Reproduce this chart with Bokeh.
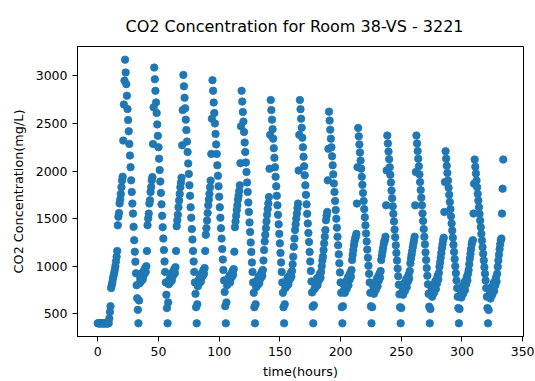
import numpy as np
from bokeh.plotting import figure
from bokeh.models import Range1d, FixedTicker, ColumnDataSource
from bokeh.embed import file_html
from bokeh.resources import INLINE

# CO2 readings (mg/L), one value every half hour, grouped by daily cycle
co2_day00 = [400, 400, 400, 400, 400, 400, 400, 400, 400, 400, 400, 400, 400, 400, 400, 400, 400, 400, 400,
             450, 520, 580, 770, 800, 830, 870, 900, 930, 960, 1000, 1050, 1100, 1160, 1430, 1520, 1560, 1660,
             1700, 1760, 1830, 1900, 1940, 2320, 2700, 2950, 3170,
             3035, 2913, 2791, 2651, 2536, 2418, 2285, 2163, 2041, 1902, 1780, 1658, 1553, 1414, 1274, 1152,
             1047, 925, 800, 664, 542, 400]
co2_day01 = [640, 820, 870, 840, 900, 930, 860, 900, 950, 920, 980, 940, 1000, 1160, 1431, 1501, 1553, 1658,
             1693, 1780, 1832, 1902, 1937, 2285, 2669, 3087,
             2965, 2843, 2721, 2610, 2490, 2370, 2250, 2130, 2010, 1890, 1770, 1650, 1530, 1410, 1290, 1170,
             1050, 940, 830, 700, 560, 400]
co2_day02 = [620, 810, 860, 830, 890, 920, 850, 890, 940, 910, 970, 930, 990, 1160, 1420, 1480, 1540, 1620,
             1690, 1760, 1830, 1880, 1930, 2270, 2640, 3010,
             2890, 2770, 2660, 2540, 2430, 2310, 2200, 2080, 1970, 1850, 1740, 1620, 1510, 1390, 1280, 1160,
             1050, 940, 830, 710, 570, 400]
co2_day03 = [600, 790, 850, 820, 880, 910, 840, 880, 930, 900, 960, 920, 980, 1160, 1330, 1400, 1480, 1560,
             1640, 1700, 1760, 1830, 1900, 2180, 2550, 2955,
             2843, 2720, 2610, 2500, 2390, 2280, 2180, 2060, 1950, 1840, 1730, 1620, 1510, 1400, 1290, 1180,
             1070, 960, 850, 730, 580, 400]
co2_day04 = [620, 800, 860, 820, 880, 900, 830, 870, 920, 890, 950, 910, 970, 1152, 1410, 1470, 1530, 1590,
             1640, 1700, 1740, 1790, 1850, 2083, 2470, 2843,
             2730, 2620, 2520, 2410, 2300, 2200, 2090, 1990, 1880, 1780, 1670, 1570, 1460, 1360, 1250, 1150,
             1040, 940, 830, 720, 570, 400]
co2_day05 = [600, 780, 840, 800, 860, 890, 820, 860, 910, 880, 940, 900, 960, 1060, 1170, 1260, 1330, 1400,
             1470, 1540, 1600, 1660, 1727, 2024, 2380, 2746,
             2640, 2540, 2440, 2340, 2240, 2140, 2040, 1940, 1840, 1740, 1640, 1540, 1440, 1340, 1240, 1140,
             1040, 940, 830, 720, 570, 400]
co2_day06 = [600, 770, 830, 790, 850, 880, 810, 850, 900, 870, 930, 890, 950, 1020, 1100, 1204, 1290, 1380,
             1440, 1500, 1553, 1610, 1658, 2006, 2380, 2746,
             2650, 2550, 2455, 2350, 2250, 2150, 2050, 1955, 1850, 1750, 1650, 1550, 1450, 1350, 1255, 1150,
             1050, 950, 840, 725, 575, 400]
co2_day07 = [590, 760, 820, 780, 840, 870, 800, 840, 890, 860, 920, 880, 940, 1000, 1060, 1100, 1170, 1240,
             1310, 1380, 1483, 1530, 1570, 1902, 2233, 2624,
             2530, 2435, 2340, 2250, 2155, 2060, 1965, 1870, 1780, 1685, 1590, 1500, 1405, 1310, 1220, 1125,
             1030, 935, 830, 720, 570, 400]
co2_day08 = [580, 740, 800, 720, 780, 840, 760, 820, 880, 800, 900, 860, 930, 890, 960, 1065, 1120, 1170,
             1220, 1260, 1290, 1309, 1340, 1658, 2041, 2453,
             2365, 2280, 2195, 2110, 2025, 1940, 1855, 1770, 1685, 1600, 1515, 1430, 1345, 1260, 1175, 1090,
             1005, 920, 830, 720, 580, 400]
co2_day09 = [570, 730, 790, 710, 770, 830, 750, 810, 870, 790, 890, 850, 920, 880, 950, 1065, 1110, 1150,
             1190, 1230, 1260, 1274, 1310, 1640, 2006, 2373,
             2290, 2205, 2125, 2040, 1960, 1880, 1795, 1715, 1630, 1550, 1470, 1385, 1305, 1220, 1140, 1060,
             975, 895, 805, 705, 570, 400]
co2_day10 = [560, 720, 780, 700, 760, 820, 740, 800, 860, 780, 880, 840, 910, 870, 950, 1030, 1080, 1120,
             1160, 1200, 1240, 1274, 1310, 1640, 1990, 2373,
             2290, 2210, 2130, 2050, 1965, 1885, 1800, 1720, 1640, 1555, 1475, 1390, 1310, 1230, 1145, 1065,
             980, 900, 810, 710, 575, 400]
co2_day11 = [550, 700, 760, 680, 740, 800, 720, 780, 840, 760, 860, 820, 900, 860, 930, 995, 1040, 1090,
             1140, 1190, 1230, 1274, 1300, 1570, 1884, 2209,
             2130, 2055, 1980, 1900, 1825, 1750, 1675, 1600, 1525, 1450, 1375, 1300, 1225, 1150, 1075, 1000,
             925, 850, 770, 680, 560, 400]
co2_day12 = [550, 690, 750, 670, 730, 790, 710, 770, 830, 750, 850, 810, 890, 850, 920, 960, 1020, 1080,
             1130, 1180, 1230, 1260, 1274, 1553, 1867, 2121,
             2045, 1975, 1900, 1830, 1760, 1690, 1620, 1550, 1480, 1410, 1340, 1270, 1200, 1130, 1060, 990,
             920, 850, 770, 680, 560, 400]
co2_day13 = [540, 680, 740, 660, 720, 780, 700, 760, 820, 740, 840, 800, 880, 840, 920, 995, 1060, 1120,
             1180, 1230, 1274, 1290, 1553, 1815, 2121]

# start hour of each block of half-hourly readings
day_start_hours = [0, 34, 58, 82, 106, 130, 154, 178, 202, 226, 250, 274, 298, 322]
sample_step_hours = 0.5

x_ticks = [0, 50, 100, 150, 200, 250, 300, 350]
y_ticks = [500, 1000, 1500, 2000, 2500, 3000]

blocks = [co2_day00, co2_day01, co2_day02, co2_day03, co2_day04, co2_day05, co2_day06,
          co2_day07, co2_day08, co2_day09, co2_day10, co2_day11, co2_day12, co2_day13]
hours, co2 = [], []
for start, vals in zip(day_start_hours, blocks):
    for i, v in enumerate(vals):
        hours.append(start + i * sample_step_hours)
        co2.append(v)

src = ColumnDataSource(dict(hours=hours, co2=co2))

FONT = "DejaVu Sans"
p = figure(width=535, height=381, output_backend="svg", toolbar_location=None,
           x_range=Range1d(-16.7, 350.7), y_range=Range1d(261.5, 3308.5),
           min_border_left=77, min_border_right=12, min_border_top=46, min_border_bottom=45,
           title="CO2 Concentration for Room 38-VS - 3221")
p.background_fill_color = "white"
p.border_fill_color = "white"
p.outline_line_color = "black"
p.outline_line_width = 1
p.xgrid.visible = False
p.ygrid.visible = False

p.title.align = "left"
p.title.offset = 48
p.title.text_font = FONT
p.title.text_font_size = "16px"
p.title.text_font_style = "normal"
p.title.text_color = "black"
p.title.standoff = 22

for ax in (p.xaxis[0], p.yaxis[0]):
    ax.major_label_text_font = FONT
    ax.major_label_text_font_size = "12.5px"
    ax.major_label_text_color = "black"
    ax.axis_label_text_font = FONT
    ax.axis_label_text_font_size = "12.8px"
    ax.axis_label_text_font_style = "normal"
    ax.axis_label_text_color = "black"
    ax.axis_line_color = "black"
    ax.major_tick_line_color = "black"
    ax.major_tick_in = 0
    ax.major_tick_out = 5
    ax.minor_tick_line_color = None
    ax.major_label_standoff = 5

p.xaxis.ticker = FixedTicker(ticks=x_ticks)
p.yaxis.ticker = FixedTicker(ticks=y_ticks)
p.xaxis.axis_label = "time(hours)"
p.yaxis.axis_label = "CO2 Concentration(mg/L)"
p.xaxis.axis_label_standoff = 5
p.yaxis.axis_label_standoff = 7

p.scatter("hours", "co2", source=src, size=7.5, fill_color="#1f77b4",
          line_color="#1f77b4", line_width=0.8)

open("out.html", "w").write(file_html(p, INLINE))
